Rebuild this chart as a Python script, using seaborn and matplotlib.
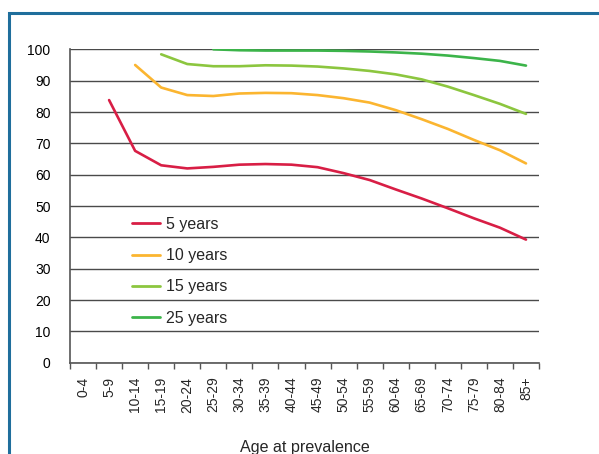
import numpy as np
import pandas as pd
import matplotlib
matplotlib.use("Agg")
import matplotlib.pyplot as plt
from matplotlib.patches import Rectangle
import seaborn as sns

ages = ['0-4', '5-9', '10-14', '15-19', '20-24', '25-29', '30-34', '35-39', '40-44',
        '45-49', '50-54', '55-59', '60-64', '65-69', '70-74', '75-79', '80-84', '85+']
nan = np.nan
five_years = [nan, 83.8, 67.6, 63.0, 62.0, 62.5, 63.2, 63.4, 63.2, 62.4, 60.5, 58.3,
              55.3, 52.4, 49.3, 46.1, 43.1, 39.3]
ten_years = [nan, nan, 95.0, 87.8, 85.4, 85.1, 85.9, 86.1, 86.0, 85.4, 84.4, 83.0,
             80.6, 77.7, 74.6, 71.1, 67.8, 63.6]
fifteen_years = [nan, nan, nan, 98.4, 95.3, 94.6, 94.6, 94.9, 94.8, 94.5, 93.9, 93.1,
                 92.0, 90.4, 88.1, 85.4, 82.6, 79.4]
twentyfive_years = [nan, nan, nan, nan, nan, 100.0, 99.7, 99.6, 99.6, 99.6, 99.5, 99.3,
                    99.0, 98.6, 98.0, 97.2, 96.3, 94.8]
series_names = ['5 years', '10 years', '15 years', '25 years']
colors = ['#d81e45', '#fbb530', '#8cc63f', '#3cb44a']

rows = []
for name, vals in zip(series_names, [five_years, ten_years, fifteen_years, twentyfive_years]):
    for i, v in enumerate(vals):
        if not np.isnan(v):
            rows.append({'pos': i, 'value': v, 'series': name})
df = pd.DataFrame(rows)

sns.set_style('white')
plt.rcParams['font.family'] = ['Liberation Sans', 'DejaVu Sans']

fig = plt.figure(figsize=(5.99, 4.54), dpi=100)
ax = fig.add_axes([70/599, 1-362.8/454, (539-70)/599, (362.8-49.3)/454])

sns.lineplot(data=df, x='pos', y='value', hue='series', hue_order=series_names,
             palette=colors, linewidth=1.9, ax=ax, zorder=3)

ax.set_ylim(0, 100)
ax.set_xlim(-0.5, len(ages) - 0.5)
ax.set_yticks(np.arange(0, 101, 10))
ax.yaxis.grid(True, color='#4a4a4a', linewidth=1.0)
ax.set_axisbelow(True)
ax.tick_params(axis='y', length=0, labelsize=10, pad=14, colors='black')

ax.set_xticks(np.arange(-0.5, len(ages), 1.0))
ax.set_xticklabels([])
ax.set_xticks(np.arange(len(ages)), minor=True)
ax.set_xticklabels(ages, minor=True, rotation=90, fontsize=10)
ax.tick_params(axis='x', which='major', direction='out', length=4, width=1, color='#555555', bottom=True)
ax.tick_params(axis='x', which='minor', length=0, pad=10)

for s in ['top', 'right']:
    ax.spines[s].set_visible(False)
for s in ['left', 'bottom']:
    ax.spines[s].set_color('#555555')
    ax.spines[s].set_linewidth(1.2)

ax.set_xlabel('Age at prevalence', fontsize=11.6, labelpad=20)
ax.set_ylabel('')

leg = ax.legend(loc='upper left', bbox_to_anchor=(0.1186, 0.486), frameon=False,
                fontsize=11.5, handlelength=1.75, handletextpad=0.4, labelspacing=1.02,
                borderaxespad=0)
for h in leg.get_lines():
    h.set_linewidth(2.0)

fig.patches.append(Rectangle((8.5/599, -0.1), 1.2, 1 - 12.5/454 + 0.1, transform=fig.transFigure,
                             fill=False, edgecolor='#1f6e9c', linewidth=2.2, clip_on=False))

fig.savefig('out.png', dpi=100)
